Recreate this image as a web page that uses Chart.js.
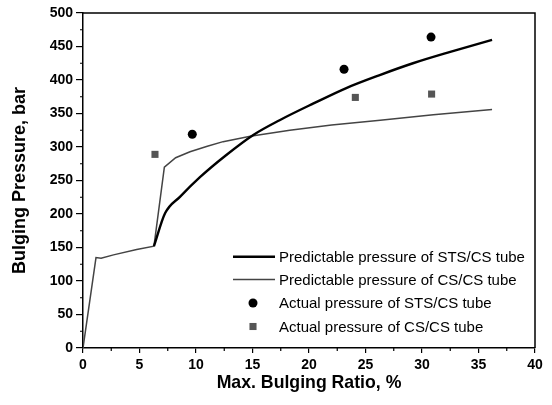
<!DOCTYPE html>
<html>
<head>
<meta charset="utf-8">
<script src="https://cdn.jsdelivr.net/npm/chart.js@4.4.1/dist/chart.umd.min.js"></script>
<style>
html,body{margin:0;padding:0;background:#fff;}
#wrap{width:552px;height:405px;}
</style>
</head>
<body>
<div id="wrap"><canvas id="c" width="552" height="405"></canvas></div>
<script>
// ---- data ----
const xTicks = [0, 5, 10, 15, 20, 25, 30, 35, 40];
const yTicks = [0, 50, 100, 150, 200, 250, 300, 350, 400, 450, 500];

const stsPredX = [6.28, 7.26, 8.6, 10.35, 12.6, 15.07, 17.4, 20.4, 23.3, 26.2, 29.2, 32.5, 36.2];
const stsPredY = [152, 201, 226, 255, 287, 318, 340, 365, 388, 407, 425, 442, 460];

const csPredX = [0, 1.15, 1.6, 2.7, 4.75, 6.28, 7.2, 8.2, 9.47, 11, 12.4, 14.8, 18.3, 22, 26.3, 31, 36.2];
const csPredY = [0, 135, 134, 139, 147, 152, 270, 284, 293, 301, 308, 316, 325, 333, 340, 348, 356];

const stsActX = [9.67, 23.1, 30.8];
const stsActY = [319, 416, 464];

const csActX = [6.37, 24.1, 30.85];
const csActY = [289, 374, 379];

const labels = [
  'Predictable pressure of STS/CS tube',
  'Predictable pressure of CS/CS tube',
  'Actual pressure of STS/CS tube',
  'Actual pressure of CS/CS tube'
];

const pts = (xs, ys) => xs.map((x, i) => ({x: x, y: ys[i]}));
const FONT = "'Liberation Sans', Arial, Helvetica, sans-serif";

const frame = {
  id: 'frame',
  afterDraw(chart) {
    const ctx = chart.ctx, a = chart.chartArea;
    ctx.save();
    ctx.strokeStyle = '#000';
    ctx.lineWidth = 1.5;
    ctx.beginPath();
    ctx.moveTo(a.left, a.top);
    ctx.lineTo(a.right, a.top);
    ctx.lineTo(a.right, a.bottom);
    ctx.stroke();
    // minor ticks
    const xs = chart.scales.x, ys = chart.scales.y;
    ctx.lineWidth = 1.2;
    ctx.beginPath();
    for (let i = 0; i < xTicks.length - 1; i++) {
      const v = (xTicks[i] + xTicks[i + 1]) / 2;
      const px = xs.getPixelForValue(v);
      ctx.moveTo(px, a.bottom);
      ctx.lineTo(px, a.bottom + 3);
    }
    for (let i = 0; i < yTicks.length - 1; i++) {
      const v = (yTicks[i] + yTicks[i + 1]) / 2;
      const py = ys.getPixelForValue(v);
      ctx.moveTo(a.left, py);
      ctx.lineTo(a.left - 3, py);
    }
    ctx.stroke();
    // legend
    const ds = chart.data.datasets;
    const lx0 = 233, lx1 = 275, tx = 279;
    const rows = [256.7, 279.5, 303, 326.5];
    ctx.font = '15px ' + FONT;
    ctx.textBaseline = 'middle';
    ctx.fillStyle = '#000';
    ds.forEach((d, i) => {
      const y = rows[i];
      if (d.showLine) {
        ctx.strokeStyle = d.borderColor;
        ctx.lineWidth = d.borderWidth;
        ctx.beginPath();
        ctx.moveTo(lx0, y);
        ctx.lineTo(lx1, y);
        ctx.stroke();
      } else {
        const cx = (lx0 + lx1) / 2 - 1;
        ctx.fillStyle = d.backgroundColor;
        if (d.pointStyle === 'circle') {
          ctx.beginPath();
          ctx.arc(cx, y, d.pointRadius, 0, Math.PI * 2);
          ctx.fill();
        } else {
          const s = d.pointRadius * Math.SQRT1_2;
          ctx.fillRect(cx - s, y - s, 2 * s, 2 * s);
        }
      }
      ctx.fillStyle = '#000';
      ctx.fillText(d.label, tx, y + 1);
    });
    ctx.restore();
  }
};

new Chart(document.getElementById('c'), {
  type: 'scatter',
  data: {
    datasets: [
      {label: labels[0], data: pts(stsPredX, stsPredY), showLine: true, borderColor: '#000', borderWidth: 2.4,
       pointRadius: 0, cubicInterpolationMode: 'monotone', fill: false},
      {label: labels[1], data: pts(csPredX, csPredY), showLine: true, borderColor: '#444', borderWidth: 1.5,
       pointRadius: 0, tension: 0, fill: false},
      {label: labels[2], data: pts(stsActX, stsActY), showLine: false, pointStyle: 'circle', pointRadius: 4.5,
       backgroundColor: '#000', borderColor: '#000', borderWidth: 0},
      {label: labels[3], data: pts(csActX, csActY), showLine: false, pointStyle: 'rect', pointRadius: 5,
       backgroundColor: '#555', borderColor: '#555', borderWidth: 0}
    ]
  },
  options: {
    responsive: false,
    animation: false,
    devicePixelRatio: 1,
    layout: {padding: {left: 0, top: 13, right: 17, bottom: 0}},
    plugins: {legend: {display: false}, tooltip: {enabled: false}},
    scales: {
      x: {
        type: 'linear', min: 0, max: 40,
        afterBuildTicks: s => { s.ticks = xTicks.map(v => ({value: v})); },
        afterFit: s => { s.height = 57; },
        border: {display: true, color: '#000', width: 1.5},
        grid: {display: true, drawOnChartArea: false, drawTicks: true, tickLength: 5, color: '#000', lineWidth: 1.2},
        ticks: {color: '#000', padding: 4, font: {family: FONT, size: 14, weight: 'bold'}, maxRotation: 0, autoSkip: false},
        title: {display: true, text: 'Max. Bulging Ratio, %', color: '#000',
                font: {family: FONT, size: 17.7, weight: 'bold'}, padding: {top: 0, bottom: 11}}
      },
      y: {
        type: 'linear', min: 0, max: 500,
        afterBuildTicks: s => { s.ticks = yTicks.map(v => ({value: v})); },
        afterFit: s => { s.width = 83; },
        border: {display: true, color: '#000', width: 1.5},
        grid: {display: true, drawOnChartArea: false, drawTicks: true, tickLength: 7, color: '#000', lineWidth: 1.2},
        ticks: {color: '#000', padding: 3, font: {family: FONT, size: 14, weight: 'bold'}, autoSkip: false},
        title: {display: true, text: 'Bulging Pressure, bar', color: '#000',
                font: {family: FONT, size: 18, weight: 'bold'}, padding: {top: 9, bottom: 0}}
      }
    }
  },
  plugins: [frame]
});
</script>
</body>
</html>
